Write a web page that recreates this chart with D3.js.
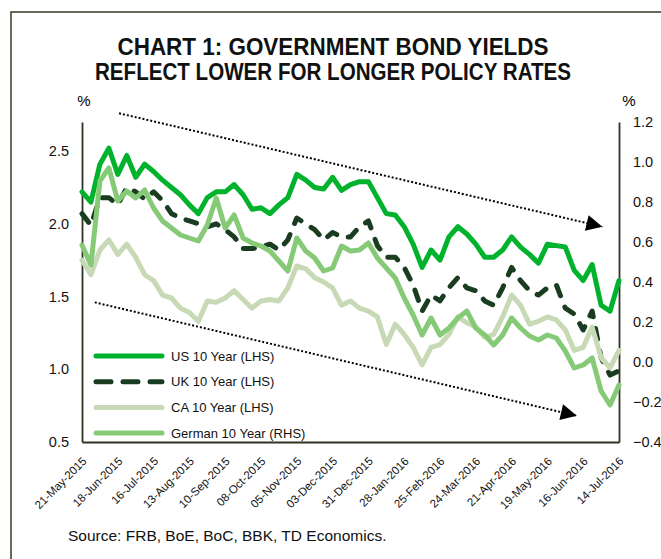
<!DOCTYPE html>
<html>
<head>
<meta charset="utf-8">
<script src="https://cdn.jsdelivr.net/npm/d3@7/dist/d3.min.js"></script>
<style>
  body { margin: 0; background: #fff; }
  svg { display: block; font-family: "Liberation Sans", Arial, sans-serif; }
</style>
</head>
<body>
<svg id="chart" width="661" height="559"></svg>
<script>
// weekly sample dates (Thursdays)
let dates = [
  '2015-05-21','2015-05-28','2015-06-04','2015-06-11','2015-06-18','2015-06-25',
  '2015-07-02','2015-07-09','2015-07-16','2015-07-23','2015-07-30','2015-08-06',
  '2015-08-13','2015-08-20','2015-08-27','2015-09-03','2015-09-10','2015-09-17',
  '2015-09-24','2015-10-01','2015-10-08','2015-10-15','2015-10-22','2015-10-29',
  '2015-11-05','2015-11-12','2015-11-19','2015-11-26','2015-12-03','2015-12-10',
  '2015-12-17','2015-12-24','2015-12-31','2016-01-07','2016-01-14','2016-01-21',
  '2016-01-28','2016-02-04','2016-02-11','2016-02-18','2016-02-25','2016-03-03',
  '2016-03-10','2016-03-17','2016-03-24','2016-03-31','2016-04-07','2016-04-14',
  '2016-04-21','2016-04-28','2016-05-05','2016-05-12','2016-05-19','2016-05-26',
  '2016-06-02','2016-06-09','2016-06-16','2016-06-23','2016-06-30','2016-07-07',
  '2016-07-14'
];

// 10 year yields, % (LHS)
let us10 = [
  2.22, 2.15, 2.41, 2.52, 2.34, 2.47, 2.32, 2.41, 2.36, 2.30, 2.25, 2.20,
  2.13, 2.07, 2.18, 2.22, 2.22, 2.27, 2.20, 2.10, 2.11, 2.07, 2.13, 2.18,
  2.34, 2.30, 2.25, 2.24, 2.32, 2.23, 2.27, 2.29, 2.29, 2.18, 2.07, 2.06,
  1.98, 1.86, 1.70, 1.82, 1.75, 1.91, 1.98, 1.93, 1.86, 1.77, 1.77, 1.82,
  1.91, 1.84, 1.79, 1.73, 1.86, 1.85, 1.84, 1.68, 1.61, 1.72, 1.44, 1.40,
  1.61
];
let uk10 = [
  2.07, 1.99, 2.18, 2.18, 2.13, 2.25, 2.22, 2.17, 2.22, 2.16, 2.07, 2.04,
  2.02, 2.00, 1.98, 2.00, 1.96, 1.91, 1.83, 1.83, 1.84, 1.86, 1.82, 1.89,
  2.04, 2.00, 1.96, 1.89, 1.94, 1.91, 1.91, 1.98, 2.02, 1.85, 1.77, 1.77,
  1.70, 1.58, 1.40, 1.51, 1.47, 1.56, 1.63, 1.56, 1.54, 1.47, 1.44, 1.56,
  1.70, 1.61, 1.54, 1.51, 1.56, 1.58, 1.42, 1.38, 1.27, 1.40, 1.08, 0.96,
  0.99
];
let ca10 = [
  1.75, 1.65, 1.82, 1.89, 1.79, 1.86, 1.77, 1.65, 1.61, 1.51, 1.49, 1.42,
  1.39, 1.33, 1.47, 1.46, 1.49, 1.54, 1.48, 1.42, 1.47, 1.48, 1.47, 1.56,
  1.71, 1.69, 1.63, 1.60, 1.56, 1.44, 1.47, 1.42, 1.40, 1.36, 1.17, 1.31,
  1.24, 1.15, 1.03, 1.15, 1.17, 1.24, 1.36, 1.32, 1.29, 1.22, 1.24, 1.36,
  1.51, 1.44, 1.31, 1.33, 1.36, 1.34, 1.27, 1.13, 1.15, 1.29, 1.08, 1.01,
  1.13
];
// German 10 year, % (RHS)
let de10 = [
  0.585, 0.485, 0.905, 0.97, 0.805, 0.855, 0.82, 0.86, 0.77, 0.705, 0.67, 0.635,
  0.62, 0.605, 0.685, 0.82, 0.67, 0.735, 0.62, 0.595, 0.58, 0.555, 0.505, 0.455,
  0.62, 0.555, 0.52, 0.455, 0.47, 0.58, 0.555, 0.56, 0.595, 0.52, 0.47, 0.42,
  0.32, 0.235, 0.135, 0.22, 0.135, 0.17, 0.22, 0.255, 0.17, 0.135, 0.085, 0.135,
  0.22, 0.17, 0.13, 0.11, 0.135, 0.12, 0.055, -0.03, -0.015, 0.02, -0.145, -0.215,
  -0.115
];

let tickLabels = [
  '2015-05-21','2015-06-18','2015-07-16','2015-08-13','2015-09-10','2015-10-08',
  '2015-11-05','2015-12-03','2015-12-31','2016-01-28','2016-02-25','2016-03-24',
  '2016-04-21','2016-05-19','2016-06-16','2016-07-14'
];
let leftTicks = [0.5, 1.0, 1.5, 2.0, 2.5];
let rightTicks = [-0.4, -0.2, 0.0, 0.2, 0.4, 0.6, 0.8, 1.0, 1.2];

// dotted trend arrows: [date, LHS value]
let trendUpper = [['2015-06-19', 2.76], ['2016-07-01', 1.98]];
let trendLower = [['2015-05-31', 1.46], ['2016-06-11', 0.68]];

let seriesNames = ['US 10 Year (LHS)', 'UK 10 Year (LHS)', 'CA 10 Year (LHS)', 'German 10 Year (RHS)'];
let seriesColor = ['#00b22c', '#1a3d22', '#c7d9b5', '#86ca78'];

let parseDate = d3.timeParse('%Y-%m-%d');
let formatTick = d3.timeFormat('%d-%b-%Y');

let svg = d3.select('#chart');

let plotLeft = 82, plotRight = 619, plotTop = 122, plotBottom = 442;

let x = d3.scaleTime()
  .domain([parseDate('2015-05-21'), parseDate('2016-07-14')])
  .range([plotLeft, plotRight]);
let yL = d3.scaleLinear().domain([0.5, 2.7]).range([plotBottom, plotTop]);
let yR = d3.scaleLinear().domain([-0.4, 1.2]).range([plotBottom, plotTop]);

// outer frame (top and left edges fall inside the picture)
svg.append('path')
  .attr('d', 'M11,570V12H670')
  .attr('fill', 'none')
  .attr('stroke', '#343a26')
  .attr('stroke-width', 1.5);

// title
let title = ['CHART 1: GOVERNMENT BOND YIELDS', 'REFLECT LOWER FOR LONGER POLICY RATES'];
let titleWidth = [431, 476];
title.forEach(function(t, i) {
  svg.append('text')
    .attr('x', 333).attr('y', 55 + i * 25)
    .attr('text-anchor', 'middle')
    .attr('font-family', '"Liberation Sans Narrow", "Arial Narrow", "Liberation Sans", Arial, sans-serif')
    .attr('font-weight', 'bold')
    .attr('font-size', 24)
    .attr('fill', '#111')
    .attr('textLength', titleWidth[i])
    .attr('lengthAdjust', 'spacingAndGlyphs')
    .text(t);
});

// % labels
svg.append('text').attr('x', 84).attr('y', 106).attr('text-anchor', 'middle')
  .attr('font-size', 15).text('%');
svg.append('text').attr('x', 629).attr('y', 106).attr('text-anchor', 'middle')
  .attr('font-size', 15).text('%');

// axes
let axL = svg.append('g')
  .attr('transform', 'translate(' + plotLeft + ',0)')
  .call(d3.axisLeft(yL).tickValues(leftTicks).tickFormat(d3.format('.1f'))
    .tickSize(0).tickPadding(13).tickSizeOuter(0));
let axR = svg.append('g')
  .attr('transform', 'translate(' + plotRight + ',0)')
  .call(d3.axisRight(yR).tickValues(rightTicks).tickFormat(d3.format('.1f'))
    .tickSize(0).tickPadding(14).tickSizeOuter(0));
let axB = svg.append('g')
  .attr('transform', 'translate(0,' + plotBottom + ')')
  .call(d3.axisBottom(x).tickValues(tickLabels.map(parseDate)).tickFormat(formatTick)
    .tickSize(0).tickSizeOuter(0));

[axL, axR].forEach(function(ax) {
  ax.selectAll('text').attr('font-size', 14.5).attr('fill', '#111')
    .attr('font-family', '"Liberation Sans", Arial, sans-serif');
});
axB.selectAll('text')
  .attr('font-size', 11.5).attr('fill', '#111')
  .attr('font-family', '"Liberation Sans", Arial, sans-serif')
  .attr('text-anchor', 'end')
  .attr('x', 0).attr('y', 0).attr('dy', '0.35em')
  .attr('transform', 'translate(2,17) rotate(-45)');
svg.selectAll('.domain').attr('stroke', '#2e3322').attr('stroke-width', 1.8);

// series
let lineL = d3.line()
  .x((d, i) => x(parseDate(dates[i])))
  .y(d => yL(d));
let lineR = d3.line()
  .x((d, i) => x(parseDate(dates[i])))
  .y(d => yR(d));

let plot = svg.append('g');
let lhsSeries = [us10, uk10, ca10];
lhsSeries.forEach(function(vals, i) {
  plot.append('path')
    .attr('d', lineL(vals))
    .attr('fill', 'none')
    .attr('stroke', seriesColor[i])
    .attr('stroke-width', 5)
    .attr('stroke-linejoin', 'round')
    .attr('stroke-linecap', 'round')
    .attr('stroke-dasharray', i == 1 ? '11,12' : null);
});
plot.append('path')
  .attr('d', lineR(de10))
  .attr('fill', 'none')
  .attr('stroke', seriesColor[3])
  .attr('stroke-width', 5)
  .attr('stroke-linejoin', 'round')
  .attr('stroke-linecap', 'round');

// trend arrows
svg.append('defs').append('marker')
  .attr('id', 'arrow')
  .attr('viewBox', '0 0 10 10')
  .attr('refX', 10).attr('refY', 5)
  .attr('markerWidth', 9).attr('markerHeight', 8)
  .attr('markerUnits', 'strokeWidth')
  .attr('orient', 'auto')
  .append('path').attr('d', 'M0,0L10,5L0,10Z').attr('fill', '#000');

[trendUpper, trendLower].forEach(function(tr) {
  svg.append('line')
    .attr('x1', x(parseDate(tr[0][0]))).attr('y1', yL(tr[0][1]))
    .attr('x2', x(parseDate(tr[1][0]))).attr('y2', yL(tr[1][1]))
    .attr('stroke', '#000')
    .attr('stroke-width', 2)
    .attr('stroke-dasharray', '2,2')
    .attr('marker-end', 'url(#arrow)');
});

// legend
let legend = svg.append('g');
seriesNames.forEach(function(name, i) {
  let ly = 356 + i * 25.7;
  legend.append('line')
    .attr('x1', 96).attr('x2', 162)
    .attr('y1', ly).attr('y2', ly)
    .attr('stroke', seriesColor[i])
    .attr('stroke-width', 5)
    .attr('stroke-linecap', 'round')
    .attr('stroke-dasharray', i == 1 ? '15,12' : null);
  legend.append('text')
    .attr('x', 171).attr('y', ly + 4.5)
    .attr('font-size', 13)
    .attr('fill', '#111')
    .text(name);
});

// source
svg.append('text')
  .attr('x', 68).attr('y', 541)
  .attr('font-size', 15.5)
  .attr('fill', '#111')
  .text('Source: FRB, BoE, BoC, BBK, TD Economics.');
</script>
</body>
</html>
